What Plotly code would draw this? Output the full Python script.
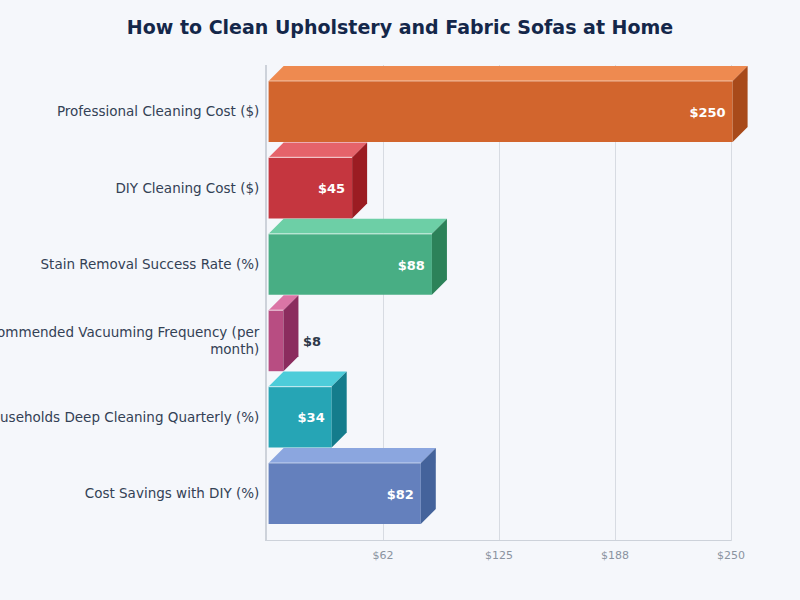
import plotly.graph_objs as go

categories = ['Professional Cleaning Cost ($)', 'DIY Cleaning Cost ($)', 'Stain Removal Success Rate (%)',
              'Recommended Vacuuming Frequency (per<br>month)', 'Households Deep Cleaning Quarterly (%)',
              'Cost Savings with DIY (%)']
values = [250, 45, 88, 8, 34, 82]
labels = ['$250', '$45', '$88', '$8', '$34', '$82']
front_colors = ['#D2652D', '#C5363F', '#48AE84', '#B84D82', '#26A5B5', '#6480BD']
top_colors = ['#EE8A50', '#E5636A', '#6DCFA6', '#DB75A6', '#4DCCD9', '#8BA6DF']
side_colors = ['#A84A1A', '#9B1C22', '#2C8259', '#8B2C5E', '#147C8C', '#44639B']
tick_vals = [62.5, 125, 187.5, 250]
tick_text = ['$62', '$125', '$188', '$250']

# plot area in pixels, everything else is worked out from it
left, right, top, bottom = 267, 731, 65, 541
right_pad = 24          # room past 250 so the 3d side of the long bar is not clipped
px_x = (right - left) / 250
px_y = 76.4
y_start = -(111.5 - top) / px_y
y_end = y_start + (bottom - top) / px_y

offset = 1.6 / px_x     # bars start a little right of the axis
dx = 15 / px_x          # depth of the 3d effect
dy = 15 / px_y
bar_w = 61 / px_y

fig = go.Figure()

y = list(range(len(categories)))
ends = [offset + v for v in values]

fig.add_trace(go.Bar(y=y, x=values, base=offset, orientation='h', width=bar_w,
                     marker=dict(color=front_colors, line=dict(width=0)),
                     cliponaxis=False, showlegend=False, hoverinfo='skip'))

# x axis line stops at 250, the axis range goes further
fig.add_trace(go.Scatter(x=[0, 250], y=[y_end, y_end], mode='lines',
                         line=dict(color='#CDD2DA', width=2),
                         cliponaxis=False, showlegend=False, hoverinfo='skip'))

for i in y:
    t = i - bar_w / 2
    b = i + bar_w / 2
    e = ends[i]
    # top face
    fig.add_trace(go.Scatter(x=[offset, offset + dx, e + dx, e, offset], y=[t, t - dy, t - dy, t, t],
                             mode='lines', fill='toself', fillcolor=top_colors[i], line=dict(width=0),
                             cliponaxis=False, showlegend=False, hoverinfo='skip'))
    # side face
    fig.add_trace(go.Scatter(x=[e, e + dx, e + dx, e, e], y=[t, t - dy, b - dy, b, t],
                             mode='lines', fill='toself', fillcolor=side_colors[i], line=dict(width=0),
                             cliponaxis=False, showlegend=False, hoverinfo='skip'))
    # light edge along the top of the front
    fig.add_trace(go.Scatter(x=[offset, e], y=[t, t], mode='lines',
                             line=dict(color='rgba(255,255,255,0.55)', width=1.2),
                             cliponaxis=False, showlegend=False, hoverinfo='skip'))
    # value label
    inside = values[i] > 20
    fig.add_trace(go.Scatter(x=[e - 7 / px_x if inside else e + dx + 4.5 / px_x], y=[i + 2 / px_y],
                             mode='text', text=[labels[i]],
                             textposition='middle left' if inside else 'middle right',
                             textfont=dict(family='DejaVu Sans', size=13, weight='bold',
                                           color='white' if inside else '#2D3748'),
                             cliponaxis=False, showlegend=False, hoverinfo='skip'))

fig.update_xaxes(range=[0, 250 + right_pad / px_x], tickmode='array', tickvals=tick_vals, ticktext=tick_text,
                 tickfont=dict(family='DejaVu Sans', size=11, color='#8A93A0'),
                 showgrid=True, gridcolor='#D7DBE2', gridwidth=1, zeroline=False,
                 showline=False, ticks='outside', ticklen=4,
                 tickcolor='rgba(0,0,0,0)', automargin=False)
fig.update_yaxes(range=[y_end, y_start], tickmode='array', tickvals=y, ticktext=categories,
                 tickfont=dict(family='DejaVu Sans', size=13.5, color='#334155'),
                 showgrid=False, zeroline=False, showline=True, linecolor='#CDD2DA', linewidth=2,
                 ticks='outside', ticklen=3, tickcolor='rgba(0,0,0,0)', automargin=False)

fig.update_layout(width=800, height=600, autosize=False,
                  margin=dict(l=left, r=800 - right - right_pad, t=top, b=600 - bottom),
                  paper_bgcolor='#F5F7FB', plot_bgcolor='#F5F7FB',
                  title=dict(text='How to Clean Upholstery and Fabric Sofas at Home', x=0.5, xanchor='center',
                             y=1 - 27 / 600, yanchor='middle',
                             font=dict(family='DejaVu Sans', size=19, weight='bold', color='#14274A')))

# page margin off so the chart fills the window
fig.write_html('out.html', config={'displayModeBar': False},
               post_script="document.body.style.margin='0';document.body.style.overflow='hidden';")
